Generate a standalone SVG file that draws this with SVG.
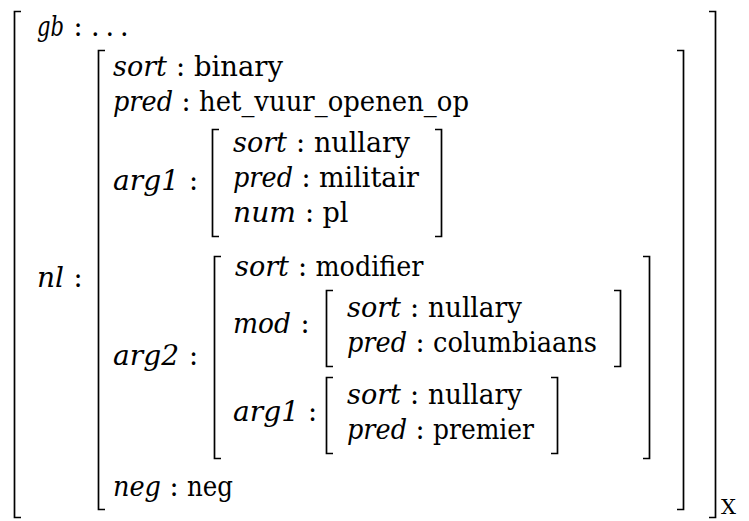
<svg xmlns="http://www.w3.org/2000/svg" width="749" height="521" viewBox="0 0 749 521">
<style>
text{font-family:"DejaVu Serif",serif;fill:#000}
.k{font-style:italic;font-size:27px}
.v{font-size:27px}
.x{font-size:21px}
.b{fill:none;stroke:#000;stroke-width:1.7;stroke-linecap:butt;stroke-linejoin:miter}
</style>
<rect width="749" height="521" fill="#fff"/>
<g id="avm-root">
<path class="b" d="M21,11.5 H14.5 V517.5 H21"/>
<path class="b" d="M709,11.5 H715.5 V517.5 H709"/>
<text class="x" x="721" y="514">X</text>
<text class="k" x="37" y="36" textLength="27" lengthAdjust="spacingAndGlyphs">gb</text>
<text class="v" x="73.5" y="36">:</text>
<text class="v" x="91" y="36">.</text>
<text class="v" x="105.5" y="36">.</text>
<text class="v" x="120" y="36">.</text>
<text class="k" x="37" y="287" textLength="27" lengthAdjust="spacingAndGlyphs">nl</text>
<text class="v" x="73.5" y="287">:</text>
</g>
<g id="avm-nl">
<path class="b" d="M105,50.5 H98.5 V509.5 H105"/>
<path class="b" d="M677,50.5 H683.5 V509.5 H677"/>
<text class="k" x="113" y="76" textLength="54" lengthAdjust="spacingAndGlyphs">sort</text>
<text class="v" x="176" y="76">:</text>
<text class="v" x="194" y="76" textLength="89" lengthAdjust="spacingAndGlyphs">binary</text>
<text class="k" x="113" y="111" textLength="60" lengthAdjust="spacingAndGlyphs">pred</text>
<text class="v" x="181.5" y="111">:</text>
<text class="v" x="199" y="111" textLength="270" lengthAdjust="spacingAndGlyphs">het_vuur_openen_op</text>
<text class="k" x="113" y="190" textLength="66" lengthAdjust="spacingAndGlyphs">arg1</text>
<text class="v" x="189" y="190">:</text>
<text class="k" x="113" y="365" textLength="66" lengthAdjust="spacingAndGlyphs">arg2</text>
<text class="v" x="189" y="365">:</text>
<text class="k" x="113" y="496" textLength="48" lengthAdjust="spacingAndGlyphs">neg</text>
<text class="v" x="169.5" y="496">:</text>
<text class="v" x="187" y="496" textLength="46" lengthAdjust="spacingAndGlyphs">neg</text>
</g>
<g id="avm-arg1">
<path class="b" d="M219,129.5 H212.5 V236.5 H219"/>
<path class="b" d="M435,129.5 H441.5 V236.5 H435"/>
<text class="k" x="233" y="152" textLength="54" lengthAdjust="spacingAndGlyphs">sort</text>
<text class="v" x="296" y="152">:</text>
<text class="v" x="314" y="152" textLength="96" lengthAdjust="spacingAndGlyphs">nullary</text>
<text class="k" x="233" y="187" textLength="60" lengthAdjust="spacingAndGlyphs">pred</text>
<text class="v" x="301.5" y="187">:</text>
<text class="v" x="319" y="187" textLength="100" lengthAdjust="spacingAndGlyphs">militair</text>
<text class="k" x="233" y="222" textLength="63" lengthAdjust="spacingAndGlyphs">num</text>
<text class="v" x="305" y="222">:</text>
<text class="v" x="322.5" y="222" textLength="26" lengthAdjust="spacingAndGlyphs">pl</text>
</g>
<g id="avm-arg2">
<path class="b" d="M221,256.5 H214.5 V458.5 H221"/>
<path class="b" d="M643,256.5 H649.5 V458.5 H643"/>
<text class="k" x="235" y="276" textLength="54" lengthAdjust="spacingAndGlyphs">sort</text>
<text class="v" x="298" y="276">:</text>
<text class="v" x="315.5" y="276" textLength="108" lengthAdjust="spacingAndGlyphs">modifier</text>
<text class="k" x="233" y="333" textLength="58" lengthAdjust="spacingAndGlyphs">mod</text>
<text class="v" x="300.5" y="333">:</text>
<text class="k" x="233" y="421" textLength="66" lengthAdjust="spacingAndGlyphs">arg1</text>
<text class="v" x="308" y="421">:</text>
</g>
<g id="avm-mod">
<path class="b" d="M333,290.5 H326.5 V366.5 H333"/>
<path class="b" d="M614,290.5 H620.5 V366.5 H614"/>
<text class="k" x="347" y="317" textLength="54" lengthAdjust="spacingAndGlyphs">sort</text>
<text class="v" x="410" y="317">:</text>
<text class="v" x="428" y="317" textLength="94" lengthAdjust="spacingAndGlyphs">nullary</text>
<text class="k" x="347" y="352" textLength="60" lengthAdjust="spacingAndGlyphs">pred</text>
<text class="v" x="415.5" y="352">:</text>
<text class="v" x="433" y="352" textLength="164" lengthAdjust="spacingAndGlyphs">columbiaans</text>
</g>
<g id="avm-arg2-arg1">
<path class="b" d="M333,377.5 H326.5 V453.5 H333"/>
<path class="b" d="M551,377.5 H557.5 V453.5 H551"/>
<text class="k" x="347" y="404" textLength="54" lengthAdjust="spacingAndGlyphs">sort</text>
<text class="v" x="410" y="404">:</text>
<text class="v" x="428" y="404" textLength="94" lengthAdjust="spacingAndGlyphs">nullary</text>
<text class="k" x="347" y="439" textLength="60" lengthAdjust="spacingAndGlyphs">pred</text>
<text class="v" x="415.5" y="439">:</text>
<text class="v" x="433" y="439" textLength="101" lengthAdjust="spacingAndGlyphs">premier</text>
</g>
</svg>
